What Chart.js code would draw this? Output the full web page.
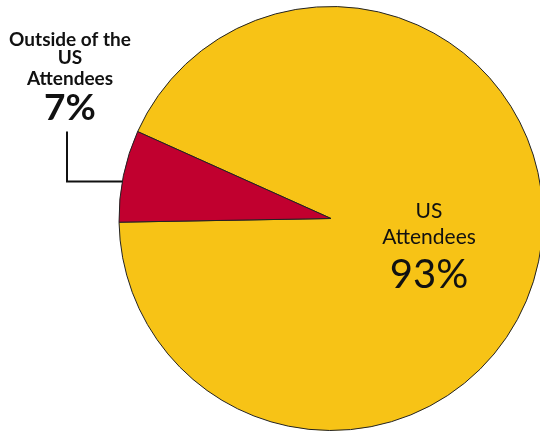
<!DOCTYPE html>
<html>
<head>
<meta charset="utf-8">
<script src="https://cdn.jsdelivr.net/npm/chart.js@4/dist/chart.umd.min.js"></script>
<style>
  html, body { margin: 0; padding: 0; background: #fff; overflow: hidden; }
  #wrap { position: relative; width: 550px; height: 431px; }
</style>
</head>
<body>
<div id="wrap"><canvas id="pie"></canvas></div>
<script>
var categorias = ["US Attendees", "Outside of the US Attendees"]
var porcentajes = [93, 7]
var colores = ["#F7C316", "#C1002F"]

// text drawn next to the slices (lines of each label, the last one is the big percentage)
var etiquetas = [
  { lineas: ["US", "Attendees"], valor: porcentajes[0] + "%", x: 98, ys: [-1, 25, 69], bold: false },
  { lineas: ["Outside of the", "US", "Attendees"], valor: porcentajes[1] + "%", x: -261, ys: [-173, -155, -134, -99], bold: true }
]

var etiquetasPlugin = {
  id: 'etiquetas',
  afterDatasetsDraw(chart) {
    var ctx = chart.ctx
    var arcs = chart.getDatasetMeta(0).data
    var cx = arcs[0].x, cy = arcs[0].y
    ctx.save()
    ctx.fillStyle = '#111'
    ctx.textAlign = 'center'
    ctx.textBaseline = 'alphabetic'
    etiquetas.forEach(function (e) {
      var peso = e.bold ? 'bold ' : 'normal '
      e.lineas.forEach(function (l, i) {
        ctx.font = peso + (e.bold ? '19px' : '21px') + ' Lato'
        ctx.fillText(l, cx + e.x, cy + e.ys[i])
      })
      ctx.font = peso + (e.bold ? '37px' : '40px') + ' Lato'
      ctx.fillText(e.valor, cx + e.x, cy + e.ys[e.ys.length - 1])
    })

    // leader line from the small slice to its label
    var a = arcs[1]
    var py = cy - 37
    var px = cx - Math.sqrt(a.outerRadius * a.outerRadius - 37 * 37)
    ctx.strokeStyle = '#111'
    ctx.lineWidth = 2
    ctx.beginPath()
    ctx.moveTo(px, py)
    ctx.lineTo(cx - 264, py)
    ctx.lineTo(cx - 264, cy - 87)
    ctx.stroke()
    ctx.restore()
  }
}

var ctx = document.getElementById('pie').getContext('2d')
var chart = new Chart(ctx, {
  type: 'pie',
  data: {
    labels: categorias,
    datasets: [{
      data: porcentajes,
      backgroundColor: colores,
      borderColor: '#222',
      borderWidth: 1,
      hoverOffset: 0
    }]
  },
  options: {
    responsive: true,
    maintainAspectRatio: false,
    animation: false,
    rotation: -65.8,
    layout: { padding: { left: 112, right: 0, top: 6, bottom: 0 } },
    plugins: {
      legend: { display: false },
      tooltip: { enabled: false }
    }
  },
  plugins: [etiquetasPlugin]
});
</script>
</body>
</html>
